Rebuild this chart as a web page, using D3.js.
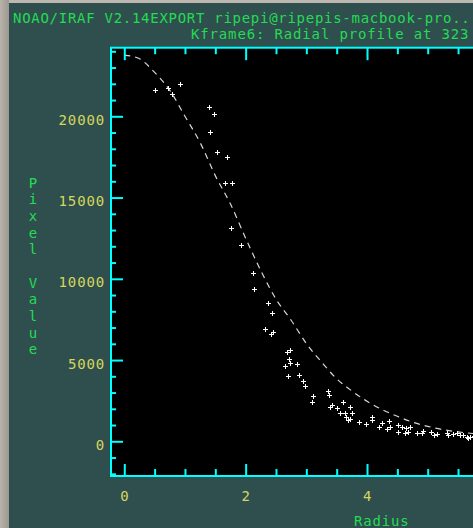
<!DOCTYPE html>
<html>
<head>
<meta charset="utf-8">
<script src="https://cdn.jsdelivr.net/npm/d3@7"></script>
<style>
  html, body { margin: 0; padding: 0; background: #2f4f4f; overflow: hidden; }
  svg { display: block; }
  .mono { font-family: "DejaVu Sans Mono", "Liberation Mono", monospace; font-size: 14px; letter-spacing: 0.85px; }
  .title { letter-spacing: 0.72px; }
</style>
</head>
<body>
<svg id="chart" width="473" height="528"></svg>
<script>
// Fitted radial profile (dashed curve)
const curveRadius = [0, 0.25, 0.5, 0.75, 1.0, 1.25, 1.5, 1.75, 2.0, 2.25, 2.5, 2.75, 3.0,
  3.25, 3.5, 3.75, 4.0, 4.25, 4.5, 4.75, 5.0, 5.25, 5.5, 5.75, 6.0];
const curveValue = [23770, 23540, 22700, 21600, 20000, 18380, 16350, 14600, 12500, 10500, 8750, 7450, 6020,
  4880, 3850, 3100, 2460, 1950, 1540, 1180, 920, 720, 580, 480, 420];

// Measured pixels: radius and pixel value
const pointRadius = [0.51, 0.72, 0.78, 0.91, 1.40, 1.48, 1.41, 1.52, 1.69, 1.66, 1.77, 1.76, 1.92, 2.12, 2.14,
  2.37, 2.44, 2.32, 2.41, 2.45, 2.68, 2.73, 2.72, 2.73, 2.65, 2.85, 2.70, 2.88, 2.95, 2.98,
  3.11, 3.10, 3.36, 3.38, 3.42, 3.39, 3.51, 3.61, 3.72, 3.55, 3.63, 3.75, 3.66, 3.72, 3.69,
  3.86, 3.98, 4.09, 4.09, 4.24, 4.37, 4.19, 4.38, 4.33, 4.51, 4.57, 4.65, 4.71, 4.51, 4.62,
  4.68, 4.82, 4.90, 4.92, 5.06, 5.16, 5.10, 5.31, 5.34, 5.42, 5.49, 5.53, 5.58, 5.64, 5.69,
  5.67, 5.76];
const pointValue = [21600, 21750, 21350, 21990, 20590, 20120, 19050, 17780, 17510, 15880, 15880, 13110, 12080, 10340, 9370,
  8530, 7910, 6890, 6620, 6700, 5510, 5620, 5050, 4840, 4630, 4760, 4020, 4080, 3710, 3400,
  2810, 2440, 3110, 2850, 2230, 2130, 2030, 2440, 2090, 1720, 1760, 1720, 1480, 1350, 1310,
  1210, 1060, 1510, 1310, 1150, 1270, 900, 860, 740, 1000, 860, 840, 860, 590, 530,
  590, 530, 530, 650, 590, 430, 390, 530, 390, 450, 490, 390, 390, 280, 280,
  185, 300];

// Axis ticks
const xMajorTicks = [0, 2, 4, 6];
const xTickLabels = [0, 2, 4];
const xMinorTicks = [0, 0.5, 1, 1.5, 2, 2.5, 3, 3.5, 4, 4.5, 5, 5.5, 6, 6.5];
const yMajorTicks = [0, 5000, 10000, 15000, 20000];
const yMinorTicks = d3.range(-2000, 24001, 1000);

const titleLines = ["NOAO/IRAF V2.14EXPORT ripepi@ripepis-macbook-pro..", "Kframe6: Radial profile at 323"];
const xLabel = "Radius";
const yLabel = "Pixel Value";

const svg = d3.select("#chart");
const W = 473, H = 528;

const frame = { left: 111, top: 47.7, right: 543, bottom: 476 };

const x = d3.scaleLinear().domain([-0.219, 6.9]).range([frame.left, frame.right]);
const y = d3.scaleLinear().domain([-2135, 24222]).range([frame.bottom, frame.top]);

const cyan = "#00ffff", yellow = "#d6d65c", green = "#22dc52";

// window chrome
svg.append("rect").attr("width", W).attr("height", H).attr("fill", "#2f4f4f");
svg.append("rect").attr("x", 0).attr("y", 0).attr("width", W).attr("height", 3).attr("fill", "#bdb9b1");
const defs = svg.append("defs");
const grad = defs.append("linearGradient").attr("id", "edge");
grad.append("stop").attr("offset", "0").attr("stop-color", "#b8b4ac");
grad.append("stop").attr("offset", "1").attr("stop-color", "#9c988f");
svg.append("rect").attr("x", 0).attr("y", 0).attr("width", 9).attr("height", H).attr("fill", "url(#edge)");

// title
svg.append("text").attr("class", "mono title").attr("x", 13).attr("y", 22.5)
  .attr("fill", green).text(titleLines[0]);
svg.append("text").attr("class", "mono").attr("x", 191).attr("y", 39)
  .attr("fill", green).text(titleLines[1]);

// plot area
svg.append("rect").attr("x", frame.left).attr("y", frame.top)
  .attr("width", frame.right - frame.left).attr("height", frame.bottom - frame.top)
  .attr("fill", "#000");

defs.append("clipPath").attr("id", "plotclip")
  .append("rect").attr("x", frame.left + 1).attr("y", frame.top + 1)
  .attr("width", frame.right - frame.left - 2).attr("height", frame.bottom - frame.top - 2);

const plot = svg.append("g").attr("clip-path", "url(#plotclip)");

// dashed profile curve
const line = d3.line().x((d, i) => x(curveRadius[i])).y((d, i) => y(curveValue[i])).curve(d3.curveMonotoneX);
plot.append("path").datum(curveValue).attr("d", line)
  .attr("fill", "none").attr("stroke", "#d8d8d8").attr("stroke-width", 1.2)
  .attr("stroke-dasharray", "6,5");

// data points as small crosses
plot.selectAll("path.pt").data(pointRadius).join("path").attr("class", "pt")
  .attr("d", (r, i) => {
    const px = Math.round(x(r)) + 0.5, py = Math.round(y(pointValue[i])) + 0.5;
    return `M${px - 2.5},${py}H${px + 2.5}M${px},${py - 2.5}V${py + 2.5}`;
  })
  .attr("stroke", "#ffffff").attr("stroke-width", 1).attr("fill", "none")
  .attr("shape-rendering", "crispEdges");

// axes (ticks point inward)
function styleAxis(g) {
  g.select(".domain").remove();
  g.selectAll(".tick line").attr("stroke", cyan).attr("stroke-width", 2);
  g.selectAll(".tick text").attr("fill", yellow).attr("class", "mono");
}

const yMinor = svg.append("g").attr("transform", `translate(${frame.left},0)`)
  .call(d3.axisLeft(y).tickValues(yMinorTicks.filter(v => v % 5000 !== 0)).tickSize(-5).tickFormat(""));
styleAxis(yMinor);
const yMajor = svg.append("g").attr("transform", `translate(${frame.left},0)`)
  .call(d3.axisLeft(y).tickValues(yMajorTicks).tickSize(-12).tickPadding(6).tickFormat(d3.format("d")));
styleAxis(yMajor);
yMajor.selectAll(".tick text").attr("dy", "8px");

const xMinor = svg.append("g").attr("transform", `translate(0,${frame.bottom})`)
  .call(d3.axisBottom(x).tickValues(xMinorTicks.filter(v => v % 2 !== 0)).tickSize(-7).tickFormat(""));
styleAxis(xMinor);
const xMajor = svg.append("g").attr("transform", `translate(0,${frame.bottom})`)
  .call(d3.axisBottom(x).tickValues(xMajorTicks).tickSize(-12).tickPadding(15)
    .tickFormat(v => xTickLabels.includes(v) ? d3.format("d")(v) : ""));
styleAxis(xMajor);

const xTopMinor = svg.append("g").attr("transform", `translate(0,${frame.top})`)
  .call(d3.axisTop(x).tickValues(xMinorTicks.filter(v => v % 2 !== 0)).tickSize(-6.5).tickFormat(""));
styleAxis(xTopMinor);
const xTopMajor = svg.append("g").attr("transform", `translate(0,${frame.top})`)
  .call(d3.axisTop(x).tickValues(xMajorTicks).tickSize(-12.5).tickFormat(""));
styleAxis(xTopMajor);

// frame
svg.append("rect").attr("x", frame.left).attr("y", frame.top)
  .attr("width", frame.right - frame.left).attr("height", frame.bottom - frame.top)
  .attr("fill", "none").attr("stroke", cyan).attr("stroke-width", 2);

// axis titles
svg.append("text").attr("class", "mono").attr("x", 381.8).attr("y", 526)
  .attr("text-anchor", "middle").attr("fill", green).text(xLabel);

svg.append("g").selectAll("text").data(Array.from(yLabel)).join("text")
  .attr("class", "mono").attr("x", 33.3).attr("y", (c, i) => 187.7 + i * 16.65)
  .attr("text-anchor", "middle").attr("fill", green).text(c => c);
</script>
</body>
</html>
